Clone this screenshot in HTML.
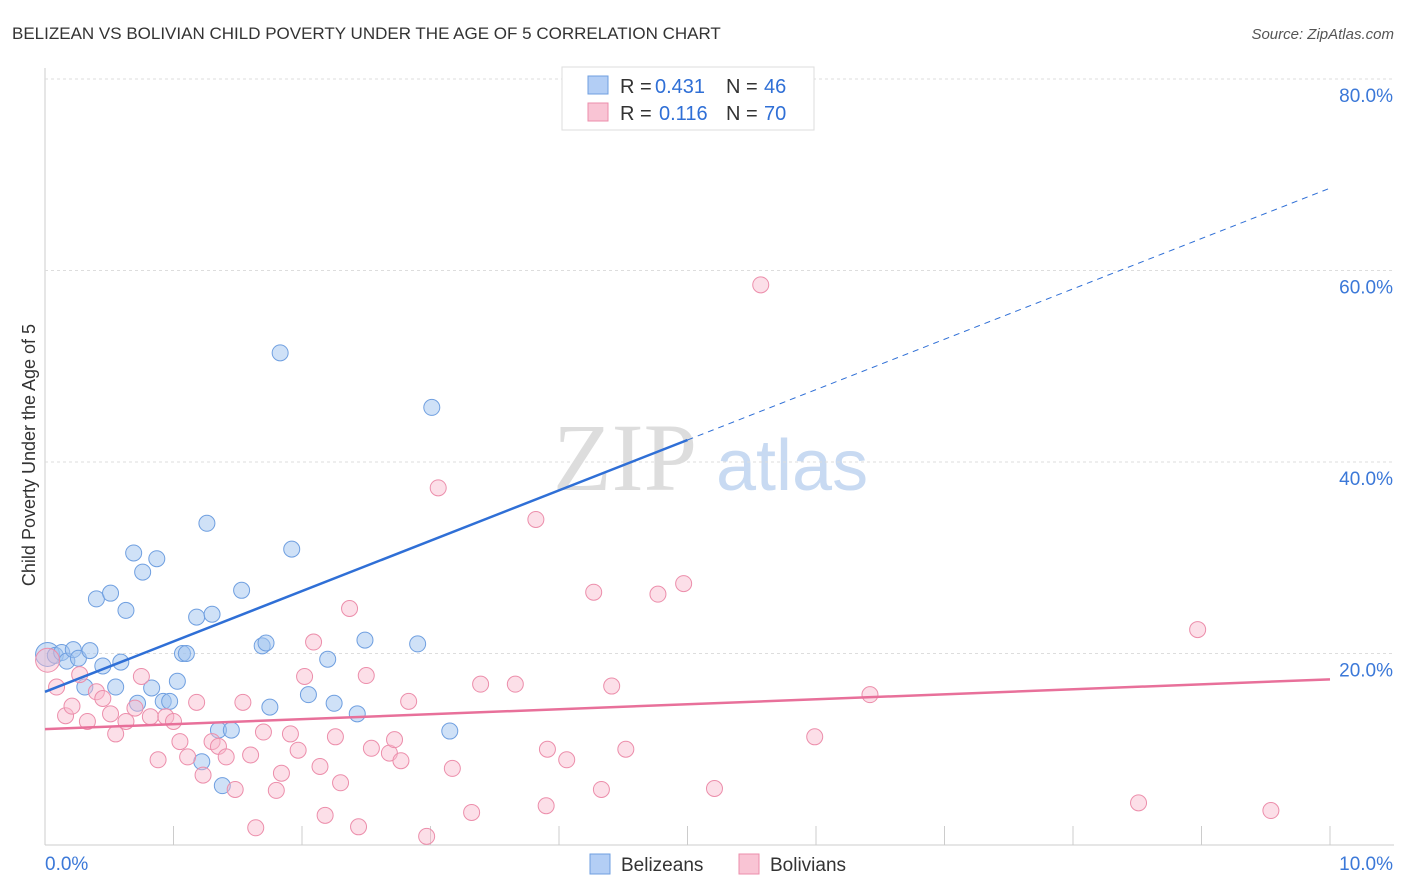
<!DOCTYPE html>
<html><head><meta charset="utf-8">
<style>
body{margin:0;background:#fff;font-family:"Liberation Sans",sans-serif;}
#wrap{position:relative;width:1406px;height:892px;overflow:hidden;}
</style></head>
<body>
<div id="wrap">
<svg id="chart" width="1406" height="892" xmlns="http://www.w3.org/2000/svg">
<text x="12" y="39" font-size="17" fill="#333">BELIZEAN VS BOLIVIAN CHILD POVERTY UNDER THE AGE OF 5 CORRELATION CHART</text>
<text x="1394" y="39" font-size="15" fill="#555" font-style="italic" text-anchor="end">Source: ZipAtlas.com</text>
<text x="35" y="455" font-size="18" fill="#333" text-anchor="middle" transform="rotate(-90 35 455)">Child Poverty Under the Age of 5</text>
<text x="553" y="490" font-size="96" fill="#ddd" font-family="Liberation Serif,serif">ZIP</text>
<text x="716" y="490" font-size="72" fill="#c8daf2">atlas</text>
<g id="grid"></g><g id="pts"></g><g id="trend"></g>
<g>
<rect x="562" y="67" width="252" height="63" fill="#fff" stroke="#ddd"/>
<rect x="588" y="76" width="20" height="18" fill="#b3cef5" stroke="#6f9fe0"/>
<rect x="588" y="103" width="20" height="18" fill="#f9c4d4" stroke="#ec8eab"/>
<text x="620" y="93" font-size="20" fill="#333">R =</text>
<text x="655" y="93" font-size="20" fill="#2f6fd6">0.431</text>
<text x="726" y="93" font-size="20" fill="#333">N =</text>
<text x="764" y="93" font-size="20" fill="#2f6fd6">46</text>
<text x="620" y="120" font-size="20" fill="#333">R =</text>
<text x="659" y="120" font-size="20" fill="#2f6fd6">0.116</text>
<text x="726" y="120" font-size="20" fill="#333">N =</text>
<text x="764" y="120" font-size="20" fill="#2f6fd6">70</text>
</g>
<g>
<rect x="590" y="854" width="20" height="20" fill="#b3cef5" stroke="#6f9fe0"/>
<text x="621" y="871" font-size="19" fill="#333">Belizeans</text>
<rect x="739" y="854" width="20" height="20" fill="#f9c4d4" stroke="#ec8eab"/>
<text x="770" y="871" font-size="19" fill="#333">Bolivians</text>
</g>
</svg>
</div>
<script>
const xTicks=[0,1,2,3,4,5,6,7,8,9,10];
const yTicks=[20,40,60,80];
const blueX=[0.02,0.08,0.13,0.17,0.22,0.26,0.35,0.31,0.4,0.45,0.51,0.55,0.59,0.63,0.69,0.72,0.76,0.83,0.87,0.92,0.97,1.03,1.07,1.1,1.18,1.22,1.26,1.3,1.35,1.38,1.45,1.53,1.69,1.72,1.75,1.83,1.92,2.05,2.2,2.25,2.43,2.49,2.9,3.01,3.15];
const blueY=[19.9,19.8,20.1,19.2,20.4,19.5,20.3,16.5,25.7,18.7,26.3,16.5,19.1,24.5,30.5,14.8,28.5,16.4,29.9,15,15,17.1,20,20,23.8,8.7,33.6,24.1,12.0,6.2,12.0,26.6,20.8,21.1,14.4,51.4,30.9,15.7,19.4,14.8,13.7,21.4,21,45.7,11.9];
const pinkX=[0.02,0.09,0.16,0.21,0.27,0.33,0.4,0.45,0.55,0.51,0.63,0.7,0.75,0.82,0.88,0.94,1,1.05,1.11,1.18,1.23,1.3,1.35,1.41,1.48,1.54,1.6,1.64,1.7,1.8,1.84,1.91,1.97,2.02,2.09,2.14,2.18,2.26,2.3,2.37,2.44,2.5,2.54,2.68,2.72,2.77,2.83,2.97,3.06,3.17,3.32,3.39,3.66,3.82,3.9,3.91,4.06,4.27,4.33,4.41,4.52,4.77,4.97,5.21,5.57,5.99,6.42,8.51,8.97,9.54];
const pinkY=[19.3,16.5,13.5,14.5,17.8,12.9,16,15.3,11.6,13.7,12.9,14.3,17.6,13.4,8.9,13.4,12.9,10.8,9.2,14.9,7.3,10.8,10.3,9.2,5.8,14.9,9.4,1.8,11.8,5.7,7.5,11.6,9.9,17.6,21.2,8.2,3.1,11.3,6.5,24.7,1.9,17.7,10.1,9.6,11,8.8,15,0.9,37.3,8,3.4,16.8,16.8,34,4.1,10,8.9,26.4,5.8,16.6,10,26.2,27.3,5.9,58.5,11.3,15.7,4.4,22.5,3.6];
const blueTrend=[0,16.0,5,42.3,10,68.6];
const pinkTrend=[0,12.1,10,17.3];
const sx=v=>45+v*128.5, sy=v=>845-v*9.575;
const NS="http://www.w3.org/2000/svg";
function mk(t,a,p){const e=document.createElementNS(NS,t);for(const k in a)e.setAttribute(k,a[k]);p.appendChild(e);return e;}
const g=document.getElementById('grid');
const ax=mk('line',{x1:45,y1:845,x2:1394,y2:845,stroke:'#ccc'},g);


const ay=mk('line',{x1:45,y1:68,x2:45,y2:845,stroke:'#ccc'},g);


yTicks.forEach(t=>{const l=mk('line',{x1:45,y1:sy(t),x2:1394,y2:sy(t),stroke:'#ddd','stroke-dasharray':'3,3'},g);


const tx=mk('text',{x:1393,y:sy(t)+23,'font-size':19,fill:'#3b78d8','text-anchor':'end'},g);tx.textContent=t.toFixed(1)+'%';

});
xTicks.forEach(t=>{if(t>0){const l=mk('line',{x1:sx(t),y1:826,x2:sx(t),y2:845,stroke:'#ccc'},g);

}});
[[0,'0.0%','start',45],[10,'10.0%','end',1393]].forEach(a=>{const tx=mk('text',{x:a[3],y:870,'font-size':19,fill:'#3b78d8','text-anchor':a[2]},g);tx.textContent=a[1];

});
const p=document.getElementById('pts');
blueX.forEach((x,i)=>{const c=mk('circle',{cx:sx(x),cy:sy(blueY[i]),r:i==0?12:8,fill:'rgba(160,195,240,0.5)',stroke:'#6f9fe0','stroke-width':1},p);

});
pinkX.forEach((x,i)=>{const c=mk('circle',{cx:sx(x),cy:sy(pinkY[i]),r:i==0?12:8,fill:'rgba(248,185,205,0.45)',stroke:'#ec8eab','stroke-width':1},p);

});
const tr=document.getElementById('trend');
const b1=mk('line',{x1:sx(blueTrend[0]),y1:sy(blueTrend[1]),x2:sx(blueTrend[2]),y2:sy(blueTrend[3]),stroke:'#2f6fd6','stroke-width':2.5},tr);


const b2=mk('line',{x1:sx(blueTrend[2]),y1:sy(blueTrend[3]),x2:sx(blueTrend[4]),y2:sy(blueTrend[5]),stroke:'#2f6fd6','stroke-width':1,'stroke-dasharray':'6,5'},tr);


const p1=mk('line',{x1:sx(pinkTrend[0]),y1:sy(pinkTrend[1]),x2:sx(pinkTrend[2]),y2:sy(pinkTrend[3]),stroke:'#e8709a','stroke-width':2.5},tr);


</script>
</body></html>
